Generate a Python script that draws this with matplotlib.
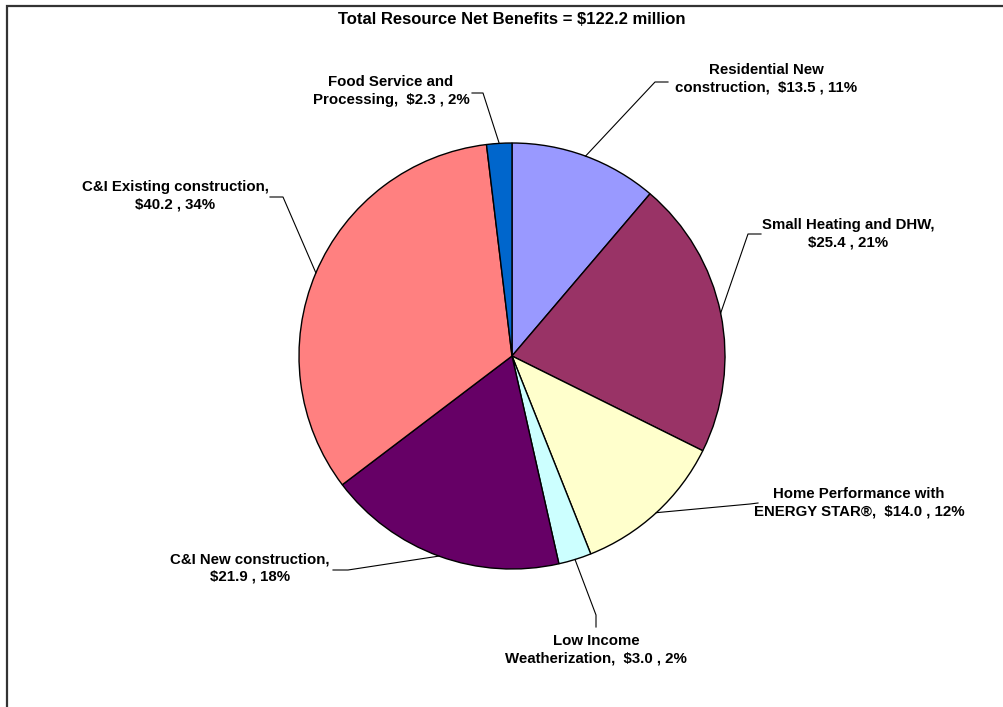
import numpy as np
import matplotlib.pyplot as plt

# Net benefits by program ($ million)
programs = ['Residential New\nconstruction', 'Small Heating and DHW', 'Home Performance with\nENERGY STAR\u00ae',
            'Low Income\nWeatherization', 'C&I New construction', 'C&I Existing construction',
            'Food Service and\nProcessing']
benefits = [13.5, 25.4, 14.0, 3.0, 21.9, 40.2, 2.3]
percents = [11, 21, 12, 2, 18, 34, 2]
colors = ['#9999FF', '#993366', '#FFFFCC', '#CCFFFF', '#660066', '#FF8080', '#0066CC']
title = 'Total Resource Net Benefits = $122.2 million'

W, H = 1004, 707
plt.rcParams['font.family'] = ['Liberation Sans', 'DejaVu Sans']

fig = plt.figure(figsize=(W / 100, H / 100), dpi=100)
ax = fig.add_axes([0, 0, 1, 1])

cx, cy, r = 512, H - 356, 213
wedges, _ = ax.pie(benefits, colors=colors, startangle=90, counterclock=False,
                   center=(cx, cy), radius=r, frame=True,
                   wedgeprops=dict(edgecolor='black', linewidth=1.0))
ax.set_xlim(0, W)
ax.set_ylim(0, H)
ax.set_aspect('equal')
ax.axis('off')

# leader elbow, leader end and text centre, in pixels from top-left
layout = [
    ((655, 82), (668, 82), (766, 79)),
    ((748, 234), (761, 234), (848, 234)),
    ((750, 504), (758, 503), (859, 503)),
    ((596, 615), (596, 627), (596, 650)),
    ((348, 570), (333, 570), (250, 568)),
    ((283, 197), (270, 197), (175, 196)),
    ((483, 93), (472, 93), (391, 91)),
]

for w, name, val, pct, (elbow, end, tpos) in zip(wedges, programs, benefits, percents, layout):
    mid = np.deg2rad((w.theta1 + w.theta2) / 2)
    ex, ey = cx + r * np.cos(mid), cy + r * np.sin(mid)
    xs = [ex, elbow[0], end[0]]
    ys = [ey, H - elbow[1], H - end[1]]
    ax.plot(xs, ys, color='black', linewidth=0.8)
    parts = name.split('\n')
    value = '$%.1f , %d%%' % (val, pct)
    if len(parts) == 2:
        text = parts[0] + '\n' + parts[1] + ',  ' + value
    else:
        text = parts[0] + ',\n' + value
    ax.text(tpos[0], H - tpos[1], text, ha='center', va='center', fontsize=10.8,
            fontweight='bold', linespacing=1.35)

ax.text(512, H - 20, title, ha='center', va='center', fontsize=12, fontweight='bold')

# outer frame (left and top edges)
ax.plot([7, 7, W], [0, H - 6, H - 6], color='#333333', linewidth=1.6, solid_joinstyle='miter')

fig.savefig('out.png', dpi=100)
